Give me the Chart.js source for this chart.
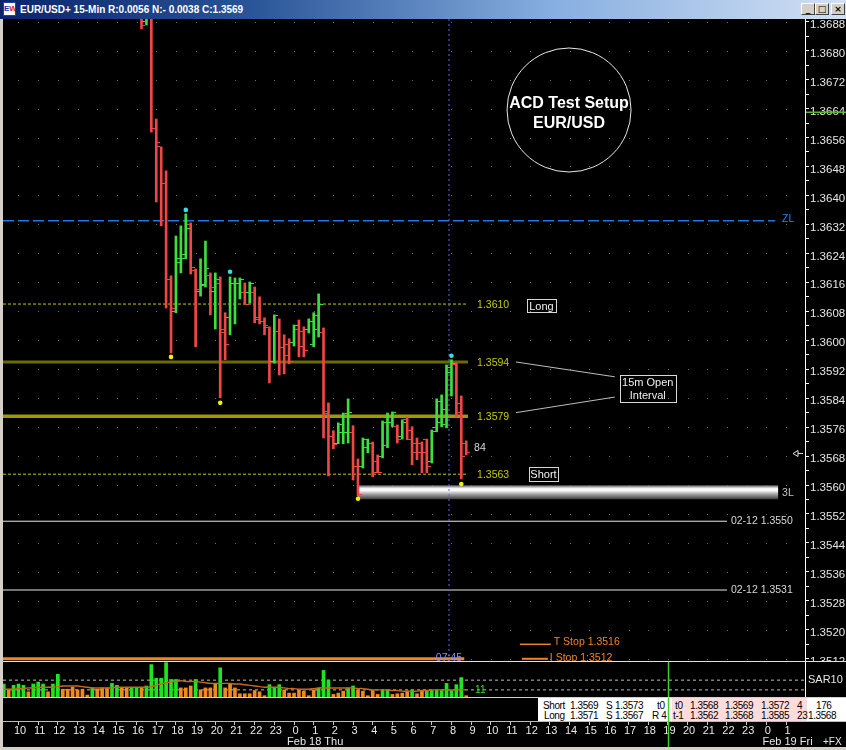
<!DOCTYPE html>
<html>
<head>
<meta charset="utf-8">
<title>EUR/USD+ 15-Min</title>
<script src="https://cdn.jsdelivr.net/npm/chart.js@4.4.1/dist/chart.umd.min.js"></script>
<style>
  body { margin:0; width:846px; height:750px; overflow:hidden; background:#d4d0c8; position:relative; }
  #titlebar { position:absolute; left:0; top:0; width:846px; height:19px;
    background:linear-gradient(to right,#0a246a 0%,#2a5598 30%,#86aee0 65%,#d2e0f4 100%); }
  #titlebar .ttl { position:absolute; left:20px; top:3px; color:#fff; white-space:nowrap;
    font:bold 10px "Liberation Sans", Arial, sans-serif; line-height:13px; }
  #icon { position:absolute; left:3px; top:2px; width:13px; height:14px; background:#fff; border:1px solid #2040a0;
    box-sizing:border-box; font:bold 8px "Liberation Sans", Arial, sans-serif; line-height:12px; overflow:hidden; }
  #icon b { color:#1030c0; } #icon i { color:#e02020; font-style:normal; }
  .btn { position:absolute; top:3px; width:14px; height:12px; background:#d4d0c8; box-sizing:border-box;
    border:1px solid; border-color:#fff #404040 #404040 #fff; color:#000; text-align:center;
    font:bold 9px "DejaVu Sans", sans-serif; line-height:10px; }
  #panel { position:absolute; left:3px; top:19px; width:843px; height:728px; background:#000; }
  .sep { position:absolute; left:3px; width:843px; height:1px; }
  canvas { position:absolute; left:3px; }
  #cPrice { top:19px; }
  #cVol { top:662px; }
  #cAxis { top:698px; z-index:3; }
  #info { position:absolute; left:538px; top:698px; width:308px; height:23px; background:#fff; z-index:2; }
  #pink { position:absolute; left:134px; top:0; width:135px; height:23px; background:#ffdcdc; }
  #info span { position:absolute; color:#000; white-space:nowrap; line-height:11px; letter-spacing:-0.4px;
    font:10px "Liberation Sans", Arial, sans-serif; }
  #fx { position:absolute; left:823px; top:736px; color:#e8e8e8; z-index:4;
    font:10px "Liberation Sans", Arial, sans-serif; }
</style>
</head>
<body>
<div id="titlebar">
  <div id="icon"><b>E</b><i>W</i></div>
  <div class="ttl">EUR/USD+ 15-Min R:0.0056 N:- 0.0038 C:1.3569</div>
  <div class="btn" style="left:801px">_</div>
  <div class="btn" style="left:815px">□</div>
  <div class="btn" style="left:831px">×</div>
</div>
<div id="panel"></div>
<div class="sep" style="top:661px;background:#e0e0e0"></div>
<div class="sep" style="top:697px;background:#d0d0d0"></div>
<div class="sep" style="top:721px;background:#bdbdbd;z-index:2"></div>
<canvas id="cPrice" width="843" height="642"></canvas>
<canvas id="cVol" width="843" height="35"></canvas>
<div id="info">
  <div id="pink"></div>
  <span style="left:5px;top:2px">Short</span><span style="left:32px;top:2px">1.3569</span>
  <span style="left:68px;top:2px">S</span><span style="left:77px;top:2px">1.3573</span>
  <span style="left:119px;top:2px">t0</span><span style="left:137px;top:2px">t0</span>
  <span style="left:152px;top:2px">1.3568</span><span style="left:187px;top:2px">1.3569</span>
  <span style="left:223px;top:2px">1.3572</span><span style="left:259px;top:2px">4</span>
  <span style="left:278px;top:2px">176</span>
  <span style="left:6px;top:12px">Long</span><span style="left:32px;top:12px">1.3571</span>
  <span style="left:68px;top:12px">S</span><span style="left:77px;top:12px">1.3567</span>
  <span style="left:114px;top:12px">R 4</span><span style="left:135px;top:12px">t-1</span>
  <span style="left:152px;top:12px">1.3562</span><span style="left:187px;top:12px">1.3568</span>
  <span style="left:223px;top:12px">1.3585</span><span style="left:259px;top:12px">23</span>
  <span style="left:270px;top:12px">1.3568</span>
</div>
<canvas id="cAxis" width="843" height="49"></canvas>
<div id="fx">+FX</div>

<script>
// bar 0 = 09:15 Feb 17, one bar per 15 minutes; bars above 1.369 are off the chart
const firstBar = 28;   // 16:15
const open  = [1.36980,1.36880,1.36970,1.36586,1.36534,1.36432,1.36167,1.36078,1.36225,1.36227,
               1.36319,1.36194,1.36136,1.36150,1.36180,1.36136,1.36156,1.36029,1.36062,1.36156,
               1.36156,1.36131,1.36133,1.36133,1.36062,1.36053,1.36034,1.35940,1.36023,1.35979,
               1.35987,1.35993,1.36029,1.36023,1.36029,1.35987,1.36029,1.36020,1.35802,1.35733,
               1.35716,1.35744,1.35744,1.35744,1.35650,1.35650,1.35705,1.35716,1.35664,1.35678,
               1.35708,1.35772,1.35761,1.35733,1.35780,1.35752,1.35714,1.35714,1.35725,1.35664,
               1.35758,1.35772,1.35766,1.35910,1.35932,1.35824,1.35716];
const high  = [1.37010,1.37000,1.37000,1.36611,1.36534,1.36468,1.36178,1.36288,1.36316,1.36349,
               1.36324,1.36197,1.36225,1.36274,1.36186,1.36186,1.36175,1.36076,1.36175,1.36172,
               1.36172,1.36158,1.36161,1.36147,1.36120,1.36062,1.36037,1.36070,1.36059,1.36015,
               1.36004,1.36042,1.36056,1.36037,1.36059,1.36076,1.36128,1.36034,1.35827,1.35750,
               1.35772,1.35799,1.35838,1.35764,1.35672,1.35730,1.35727,1.35719,1.35683,1.35777,
               1.35799,1.35802,1.35766,1.35780,1.35788,1.35761,1.35730,1.35719,1.35727,1.35752,
               1.35838,1.35849,1.35932,1.35946,1.35937,1.35846,1.35722];
const low   = [1.36860,1.36871,1.36575,1.36382,1.36316,1.36089,1.35965,1.36076,1.36186,1.36225,
               1.36183,1.35982,1.36122,1.36147,1.36070,1.36031,1.35841,1.35946,1.36015,1.36045,
               1.36114,1.36100,1.36103,1.36048,1.36045,1.36015,1.35882,1.35937,1.35904,1.35907,
               1.35935,1.35984,1.35954,1.35954,1.36020,1.35982,1.36009,1.35730,1.35625,1.35700,
               1.35714,1.35714,1.35716,1.35614,1.35570,1.35647,1.35689,1.35623,1.35634,1.35675,
               1.35703,1.35761,1.35716,1.35727,1.35725,1.35656,1.35670,1.35634,1.35634,1.35661,
               1.35747,1.35761,1.35758,1.35846,1.35788,1.35617,1.35683];
const close = [1.36870,1.36960,1.36586,1.36545,1.36432,1.36169,1.36089,1.36216,1.36236,1.36310,
               1.36200,1.36139,1.36153,1.36197,1.36147,1.36167,1.36020,1.35987,1.36158,1.36158,
               1.36167,1.36100,1.36156,1.36056,1.36051,1.36040,1.35940,1.36067,1.35979,1.35959,
               1.35940,1.36040,1.35982,1.35973,1.36051,1.36067,1.36098,1.35797,1.35733,1.35711,
               1.35766,1.35797,1.35799,1.35650,1.35573,1.35725,1.35716,1.35634,1.35636,1.35774,
               1.35772,1.35799,1.35725,1.35774,1.35725,1.35689,1.35689,1.35689,1.35650,1.35747,
               1.35832,1.35808,1.35926,1.35935,1.35799,1.35680,1.35689];

const volume = [20,12,18,20,18,8,20,23,20,8, 20,35,12,12,15,11,12,3,14,12,
                14,14,21,18,14,14,15,15,14,17, 50,29,29,53,27,27,14,14,17,27,
                11,14,14,20,45,14,20,14,5,5, 5,10,8,2,19,15,19,11,6,6,
                12,9,2,11,14,41,26,4,6,9, 14,17,11,9,2,10,4,11,11,4,
                5,6,9,11,5,9,10,10,10,10, 21,10,19,30,2];
const volUp  = [1,0,1,1,1,0,1,1,1,0, 1,1,0,0,0,0,0,0,1,0,
                0,0,1,1,0,0,1,1,0,1, 1,1,1,1,1,1,0,0,0,1,
                0,0,0,0,1,0,0,0,0,0, 0,0,0,0,1,1,1,0,0,0,
                0,0,0,0,1,1,1,0,0,0, 1,1,0,0,0,0,0,1,1,0,
                0,0,0,1,0,0,1,1,1,1, 1,1,1,1,0];
const volAvg = [12,12,12,13,13,14,14,15,15,15, 15,16,17,17,17,17,16,15,14,14,
                14,14,14,15,15,15,15,15,15,15, 16,18,20,22,23,24,25,24,24,24,
                23,22,21,21,21,21,21,20,20,19, 18,17,16,15,15,15,15,14,13,13,
                12,12,12,13,14,14,14,14,14,14, 14,14,13,13,12,11,11,11,11,10,
                10,9,9,9,9,10,10,11,11,11, 11,11,11,11,11];

const swingHighs = [[37, 1.36360], [46, 1.36189], [91, 1.35957]];
const swingLows  = [[34, 1.35954], [44, 1.35827], [72, 1.35562], [93, 1.35603]];

const hourTicks = [10,11,12,13,14,15,16,17,18,19,20,21,22,23,
                   0,1,2,3,4,5,6,7,8,9,10,11,12,13,14,15,16,17,18,19,20,21,22,23,
                   0,1];
const dayLabels = ['Feb 18 Thu', 'Feb 19 Fri'];

const entryLevels = [1.3610, 1.3594, 1.3579, 1.3563];
const zeroLine = 1.3633;
const threeL = 1.3558;
const prevLevels = [1.3550, 1.3531];
const tStop = 1.3516;
const iStop = 1.3512;
const markLevel = 1.3663;
const openBar = 90;      // 07:45
const nowBar = 135;      // 19:00
const sarLevels = [26, 11];

// ---- layout in bar / price units ----
const X_MIN = -0.15, X_MAX = 162.86;
const Y_MIN = 1.351139, Y_MAX = 1.368874;
const levelEnd = 94.36, zlEnd = 156.8, prevEnd = 147.0, threeLEnd = 157.4, baseEnd = 93.6;

const SANS = '"Liberation Sans", Arial, sans-serif';
const RED = '#f04646', GREEN = '#3ce03c', YEL = '#c8c800', ORANGE = '#f08424';

Chart.defaults.font.family = SANS;
Chart.defaults.color = '#e6e6e6';
Chart.defaults.animation = false;
Chart.defaults.events = [];
Chart.defaults.plugins.legend.display = false;
Chart.defaults.plugins.tooltip.enabled = false;

const isUp = k => close[k] >= open[k];

function tickImage(color, side) {
  const c = document.createElement('canvas');
  c.width = 8; c.height = 1;
  const g = c.getContext('2d');
  g.fillStyle = color;
  g.fillRect(side < 0 ? 0 : 5, 0, 3, 1);
  return c;
}
const openTick = [tickImage(RED, -1), tickImage(GREEN, -1)];
const closeTick = [tickImage(RED, 1), tickImage(GREEN, 1)];

function hline(p, from, to, style) {
  return Object.assign({
    type: 'line', data: [{x: from, y: p}, {x: to, y: p}],
    pointRadius: 0, borderWidth: 1, fill: false, order: 5
  }, style);
}

const priceDecor = {
  id: 'priceDecor',
  beforeDatasetsDraw(chart) {
    const {ctx, scales: {x, y}} = chart;
    ctx.save();
    ctx.fillStyle = '#707070';
    for (let k = 0; k < hourTicks.length; k++) {
      const px = Math.round(x.getPixelForValue(3 + 4 * k));
      for (let p = 1.3512; p < Y_MAX; p += 0.0008) {
        ctx.fillRect(px, Math.round(y.getPixelForValue(p)), 1, 1);
      }
    }
    ctx.restore();
  },
  afterDatasetsDraw(chart) {
    const {ctx, chartArea: a, scales: {x, y}} = chart;
    const X = v => x.getPixelForValue(v), Y = v => y.getPixelForValue(v);
    ctx.save();
    ctx.textBaseline = 'middle';
    ctx.textAlign = 'left';

    ctx.font = '10.5px ' + SANS;
    ctx.fillStyle = YEL;
    entryLevels.forEach(p => ctx.fillText(p.toFixed(4), X(96.2), Y(p) + 1));
    ctx.fillStyle = '#d8d8d8';
    ctx.fillText('84', X(95.6), Y(1.35703));
    prevLevels.forEach(p => ctx.fillText('02-12 ' + p.toFixed(4), X(147.8), Y(p)));
    ctx.fillStyle = '#2a80e0';
    ctx.fillText('ZL', X(158.2), Y(zeroLine) - 2);
    ctx.fillStyle = '#c4c4c4';
    ctx.fillText('3L', X(158.2), Y(threeL) + 1);
    ctx.fillStyle = ORANGE;
    ctx.fillText('T Stop ' + tStop.toFixed(4), X(111.8), Y(tStop) - 2);
    ctx.fillText('I Stop 1:3512', X(111.0), Y(iStop) - 1);

    // 07:45 tag on the open-bar line
    ctx.textAlign = 'center';
    ctx.fillStyle = '#8c8cf0';
    ctx.fillText('07:45', X(openBar + 0.5), a.bottom - 3);

    // boxed notes
    ctx.font = '11px ' + SANS;
    ctx.strokeStyle = '#d8d8d8';
    ctx.lineWidth = 1;
    const box = (cx, cy, w, h, lines) => {
      ctx.strokeRect(Math.round(cx - w / 2) + 0.5, Math.round(cy - h / 2) + 0.5, w, h);
      ctx.fillStyle = '#f0f0f0';
      lines.forEach((t, i) => ctx.fillText(t, cx, cy + 1 + (i - (lines.length - 1) / 2) * 13));
    };
    box(X(109.3), Y(1.36096), 29, 13, ['Long']);
    box(X(109.7), Y(1.35631), 29, 14, ['Short']);
    box(X(130.9), Y(1.35868), 56, 27, ['15m Open', 'Interval']);

    ctx.strokeStyle = '#bdbdbd';
    ctx.beginPath();
    ctx.moveTo(X(104.1), Y(1.3594)); ctx.lineTo(X(124.2), Y(1.35899));
    ctx.moveTo(X(104.1), Y(1.3580)); ctx.lineTo(X(124.2), Y(1.35843));
    ctx.stroke();

    // title circle
    const cx = X(114.9), cy = Y(1.36636);
    ctx.strokeStyle = '#e8e8e8';
    ctx.beginPath(); ctx.arc(cx, cy, 62, 0, Math.PI * 2); ctx.stroke();
    ctx.fillStyle = '#ffffff';
    ctx.font = 'bold 16px ' + SANS;
    ctx.fillText('ACD Test Setup', cx, cy - 6);
    ctx.fillText('EUR/USD', cx, cy + 14);

    // last price marker
    const ly = Math.round(Y(close[close.length - 1])) + 0.5;
    ctx.strokeStyle = '#e0e0e0';
    ctx.beginPath();
    ctx.moveTo(a.right - 12, ly); ctx.lineTo(a.right - 7, ly - 3); ctx.lineTo(a.right - 7, ly + 3); ctx.closePath();
    ctx.moveTo(a.right - 7, ly); ctx.lineTo(a.right - 2, ly);
    ctx.stroke();

    // marker in the price axis
    ctx.strokeStyle = '#5cb82a';
    ctx.lineWidth = 1.5;
    ctx.beginPath();
    ctx.moveTo(a.right + 1, Y(markLevel)); ctx.lineTo(chart.width, Y(markLevel));
    ctx.stroke();
    ctx.restore();
  }
};

new Chart(document.getElementById('cPrice'), {
  type: 'bar',
  data: {
    datasets: [
      {
        type: 'bar', order: 2,
        data: open.map((o, k) => ({x: firstBar + k, y: [low[k], high[k]]})),
        backgroundColor: c => isUp(c.dataIndex) ? GREEN : RED,
        barThickness: 2, borderWidth: 0
      },
      {
        type: 'scatter', order: 1,
        data: open.map((o, k) => ({x: firstBar + k, y: o})),
        pointStyle: c => openTick[+isUp(c.dataIndex)], pointRadius: 1
      },
      {
        type: 'scatter', order: 1,
        data: close.map((v, k) => ({x: firstBar + k, y: v})),
        pointStyle: c => closeTick[+isUp(c.dataIndex)], pointRadius: 1
      },
      {
        type: 'scatter', order: 0,
        data: swingHighs.map(([i, p]) => ({x: i, y: p})),
        pointStyle: 'circle', pointRadius: 2.3, backgroundColor: '#2ce0ec', borderWidth: 0
      },
      {
        type: 'scatter', order: 0,
        data: swingLows.map(([i, p]) => ({x: i, y: p})),
        pointStyle: 'circle', pointRadius: 2.3, backgroundColor: '#f0f000', borderWidth: 0
      },
      {
        type: 'line', order: 3, pointRadius: 0, borderWidth: 1,
        data: [{x: openBar + 0.5, y: Y_MIN}, {x: openBar + 0.5, y: Y_MAX}],
        borderColor: '#5a6cd8', borderDash: [2, 3]
      },
      hline(threeL, 72, threeLEnd, {
        order: 4, borderWidth: 14, borderCapStyle: 'butt',
        borderColor: c => {
          const ch = c.chart;
          if (!ch.chartArea) return '#aaaaaa';
          const yy = ch.scales.y.getPixelForValue(threeL);
          const g = ch.ctx.createLinearGradient(0, yy - 7, 0, yy + 7);
          g.addColorStop(0, '#5a5a5a');
          g.addColorStop(0.22, '#f2f2f2');
          g.addColorStop(0.36, '#ffffff');
          g.addColorStop(0.62, '#a8a8a8');
          g.addColorStop(1, '#3c3c3c');
          return g;
        }
      }),
      hline(zeroLine, X_MIN, zlEnd, {borderColor: '#1f78e0', borderWidth: 1.5, borderDash: [11, 4]}),
      hline(entryLevels[0], X_MIN, levelEnd, {borderColor: YEL, borderDash: [3, 2]}),
      hline(entryLevels[1], X_MIN, levelEnd, {borderColor: '#6a6a00', borderWidth: 3}),
      hline(entryLevels[1], X_MIN, levelEnd, {borderColor: '#e4e400', borderWidth: 1.5, borderDash: [4, 1]}),
      hline(entryLevels[2], X_MIN, levelEnd, {borderColor: '#9c9c00', borderWidth: 3.5}),
      hline(entryLevels[2], X_MIN, levelEnd, {borderColor: '#ecec00', borderWidth: 1, borderDash: [3, 2]}),
      hline(entryLevels[3], X_MIN, levelEnd, {borderColor: YEL, borderDash: [3, 2]}),
      ...prevLevels.map(p => hline(p, X_MIN, prevEnd, {borderColor: '#e8e8e8'})),
      hline(tStop, 104.9, 111.2, {borderColor: ORANGE, borderWidth: 1.5}),
      hline(iStop, 105.3, 110.6, {borderColor: ORANGE, borderWidth: 2}),
      hline(iStop, X_MIN, baseEnd, {borderColor: '#f0861c', borderWidth: 3})
    ]
  },
  options: {
    responsive: false,
    layout: {padding: 0, autoPadding: false},
    scales: {
      x: {type: 'linear', min: X_MIN, max: X_MAX, offset: false, display: false},
      y: {
        position: 'right', min: Y_MIN, max: Y_MAX,
        afterFit: s => { s.width = 41; s.paddingTop = 0; s.paddingBottom = 0; },
        afterBuildTicks: s => {
          s.ticks = [];
          for (let k = 0; k <= 44; k++) s.ticks.push({value: 1.3512 + k * 0.0004});
        },
        ticks: {
          autoSkip: false, padding: 1, labelOffset: 3, color: '#e6e6e6',
          font: {size: 11.5},
          callback: (v, i) => i % 2 === 0 ? v.toFixed(4) : ''
        },
        grid: {drawOnChartArea: false, tickLength: 4, color: '#ffffff'},
        border: {color: '#ffffff', width: 1}
      }
    }
  },
  plugins: [priceDecor]
});

const nowLine = {
  id: 'nowLine',
  afterDatasetsDraw(chart) {
    const {ctx, scales: {x}} = chart;
    const px = Math.round(x.getPixelForValue(nowBar)) + 0.5;
    ctx.save();
    ctx.strokeStyle = '#3cd020';
    ctx.lineWidth = 1.5;
    ctx.beginPath(); ctx.moveTo(px, 0); ctx.lineTo(px, chart.height); ctx.stroke();
    if (chart.scales.y && chart.scales.y.options.display) {
      ctx.fillStyle = '#30e030';
      ctx.font = '10px ' + SANS;
      ctx.textBaseline = 'middle';
      ctx.fillText(String(sarLevels[1]), x.getPixelForValue(95.8), chart.scales.y.getPixelForValue(sarLevels[1]));
    }
    ctx.restore();
  }
};

new Chart(document.getElementById('cVol'), {
  type: 'bar',
  data: {
    datasets: [
      {
        type: 'line', order: 0, data: volAvg.map((v, i) => ({x: i, y: v})),
        borderColor: '#c46a1c', borderWidth: 1.4, pointRadius: 0, tension: 0.3
      },
      {
        type: 'bar', order: 1, data: volume.map((v, i) => ({x: i, y: v})),
        backgroundColor: c => volUp[c.dataIndex] ? '#1ee61e' : '#f08a1e',
        barThickness: 3, borderWidth: 0
      },
      ...sarLevels.map(v => ({
        type: 'line', order: 2, data: [{x: X_MIN, y: v}, {x: X_MAX, y: v}],
        borderColor: '#bdbdbd', borderWidth: 1, borderDash: [3, 3], pointRadius: 0
      }))
    ]
  },
  options: {
    responsive: false,
    layout: {padding: 0, autoPadding: false},
    scales: {
      x: {type: 'linear', min: X_MIN, max: X_MAX, offset: false, display: false},
      y: {
        position: 'right', min: 0, max: 54,
        afterFit: s => { s.width = 41; s.paddingTop = 0; s.paddingBottom = 0; },
        afterBuildTicks: s => { s.ticks = [{value: sarLevels[0]}]; },
        ticks: {padding: 3, color: '#e6e6e6', font: {size: 11}, callback: () => 'SAR10'},
        grid: {display: false, drawTicks: false},
        border: {color: '#ffffff', width: 1}
      }
    }
  },
  plugins: [nowLine]
});

new Chart(document.getElementById('cAxis'), {
  type: 'line',
  data: {datasets: []},
  options: {
    responsive: false,
    layout: {padding: {right: 41}, autoPadding: false},
    scales: {
      x: {
        type: 'linear', min: X_MIN, max: X_MAX, offset: false, position: 'bottom',
        afterBuildTicks: s => { s.ticks = hourTicks.map((h, k) => ({value: 3 + 4 * k})); },
        afterFit: s => { s.height = 25; s.paddingLeft = 0; s.paddingRight = 0; },
        ticks: {
          autoSkip: false, maxRotation: 0, padding: 1, labelOffset: 1.5, color: '#e8e8e8',
          font: {size: 11, lineHeight: 0.95},
          callback: (v, k) => {
            const h = hourTicks[k];
            if (h !== 1) return String(h);
            const day = hourTicks.slice(0, k).filter(t => t === 1).length;
            return [String(h), dayLabels[day]];
          }
        },
        grid: {drawOnChartArea: false, tickLength: 3, color: '#c8c8c8'},
        border: {display: false}
      },
      y: {display: false, min: 0, max: 1}
    }
  },
  plugins: [nowLine]
});
</script>
</body>
</html>
